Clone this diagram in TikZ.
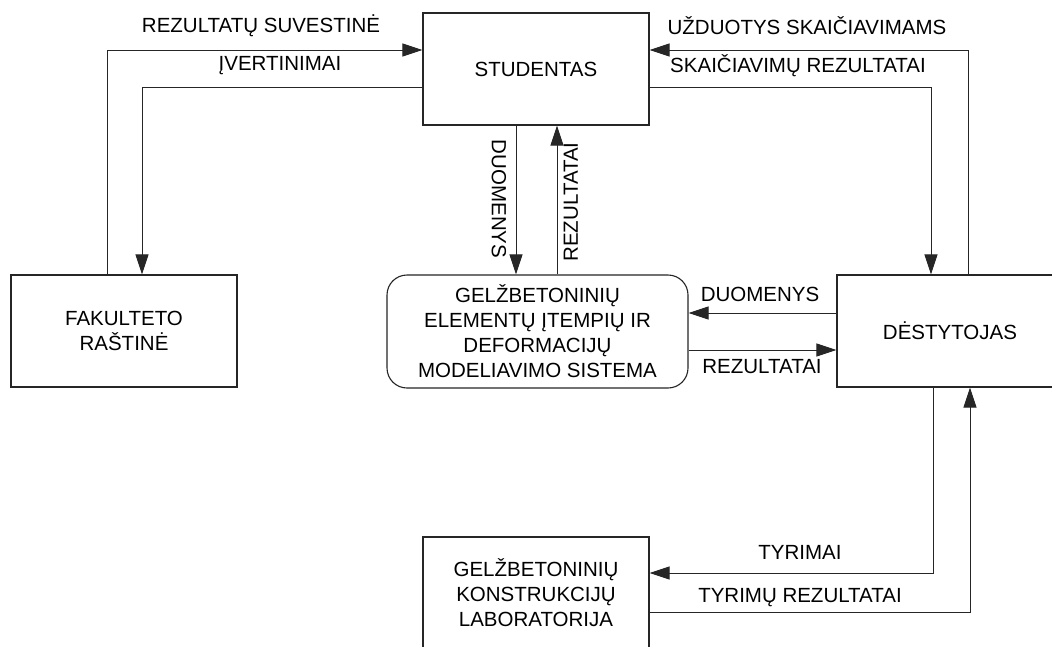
\documentclass[tikz,border=0pt]{standalone}
\usepackage{fontspec}
\setmainfont{Liberation Sans}
\usetikzlibrary{arrows.meta}
\begin{document}
\begin{tikzpicture}[x=1pt,y=-1pt,
  txt/.style={font=\fontsize{20.5}{25}\selectfont, inner sep=0pt, align=center},
  box/.style={txt, draw=black!85, line width=1.1pt, minimum width=226pt, minimum height=112pt},
  sysbox/.style={box, rounded corners=20pt, minimum width=301pt, minimum height=113pt},
  lbl/.style={txt},
  arr/.style={draw=black!85, line width=1pt, -{Triangle[length=20pt,width=13pt]}}]
\useasboundingbox (0,0) rectangle (1052,646);
\fill[white] (0,0) rectangle (1052,646);
\clip (0,0) rectangle (1052,646);

% entities and the central system
\node[box] (stud) at (536,69) {STUDENTAS};
\node[box] (fak) at (124,331) {FAKULTETO\\RAŠTINĖ};
\node[box] (dest) at (950,331) {DĖSTYTOJAS};
\node[sysbox] (sys) at (537.5,331.5) {GELŽBETONINIŲ\\ELEMENTŲ ĮTEMPIŲ IR\\DEFORMACIJŲ\\MODELIAVIMO SISTEMA};
\node[box] (lab) at (536,593) {GELŽBETONINIŲ\\KONSTRUKCIJŲ\\LABORATORIJA};

% bend points of the routed flows
\coordinate (rsA) at (107,50);
\coordinate (ivA) at (142,87);
\coordinate (udA) at (968,50);
\coordinate (skA) at (931,87);
\coordinate (dv) at (516,0);
\coordinate (rv) at (557,0);
\coordinate (dh) at (0,313);
\coordinate (rh) at (0,350);
\coordinate (tyA) at (933,573);
\coordinate (trA) at (970,612);

% flows
\draw[arr] (rsA |- fak.north) -- (rsA) -- (rsA -| stud.west);
\draw[arr] (ivA -| stud.west) -- (ivA) -- (ivA |- fak.north);
\draw[arr] (udA |- dest.north) -- (udA) -- (udA -| stud.east);
\draw[arr] (skA -| stud.east) -- (skA) -- (skA |- dest.north);
\draw[arr] (dv |- stud.south) -- (dv |- sys.north);
\draw[arr] (rv |- sys.north) -- (rv |- stud.south);
\draw[arr] (dh -| dest.west) -- (dh -| sys.east);
\draw[arr] (rh -| sys.east) -- (rh -| dest.west);
\draw[arr] (tyA |- dest.south) -- (tyA) -- (tyA -| lab.east);
\draw[arr] (trA -| lab.east) -- (trA) -- (trA |- dest.south);

% flow labels
\node[lbl] (lrs) at (261,26) {REZULTATŲ SUVESTINĖ};
\node[lbl] (liv) at (280,66) {ĮVERTINIMAI};
\node[lbl] (lud) at (807,26) {UŽDUOTYS SKAIČIAVIMAMS};
\node[lbl] (lsk) at (798,66) {SKAIČIAVIMŲ REZULTATAI};
\node[lbl, rotate=-90] (ldv) at (499,199) {DUOMENYS};
\node[lbl, rotate=90] (lrv) at (571,202) {REZULTATAI};
\node[lbl] (ldh) at (760,294) {DUOMENYS};
\node[lbl] (lrh) at (762,367) {REZULTATAI};
\node[lbl] (lty) at (800,552) {TYRIMAI};
\node[lbl] (ltr) at (800,598) {TYRIMŲ REZULTATAI};
\end{tikzpicture}
\end{document}
